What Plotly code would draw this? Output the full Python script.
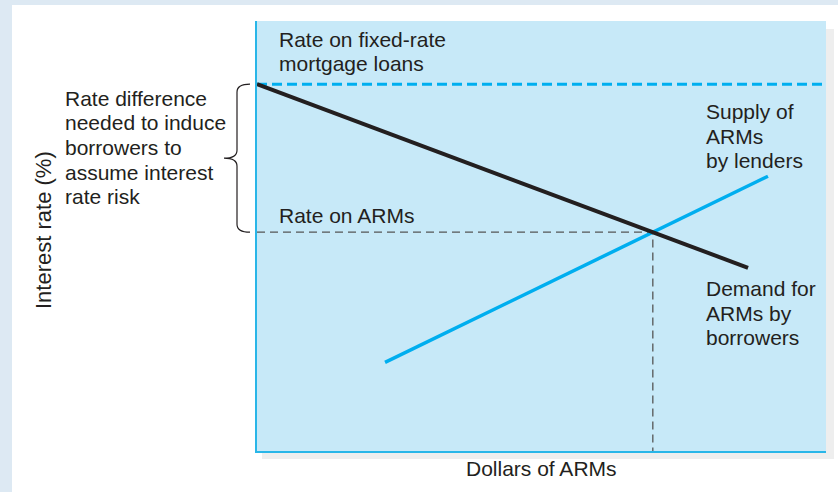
import plotly.graph_objects as go

# Market for adjustable-rate mortgages (ARMs): axis units are 0-100 on both axes
fixed_rate = 85.3
demand_x = [0, 86.3]
demand_y = [85.3, 42.6]
supply_x = [22.5, 89.8]
supply_y = [20.6, 63.9]

label_fixed = ["Rate on fixed-rate", "mortgage loans"]
label_arm = ["Rate on ARMs"]
label_supply = ["Supply of", "ARMs", "by lenders"]
label_demand = ["Demand for", "ARMs by", "borrowers"]
label_gap = ["Rate difference", "needed to induce", "borrowers to",
             "assume interest", "rate risk"]
x_title = "Dollars of ARMs"
y_title = "Interest rate (%)"

X_RANGE = [0, 100]
Y_RANGE = [0, 100]

# Equilibrium where the two straight lines cross
sd = (demand_y[1] - demand_y[0]) / (demand_x[1] - demand_x[0])
ss = (supply_y[1] - supply_y[0]) / (supply_x[1] - supply_x[0])
eq_x = (supply_y[0] - ss * supply_x[0] - demand_y[0] + sd * demand_x[0]) / (sd - ss)
eq_y = demand_y[0] + sd * (eq_x - demand_x[0])

TEXT = "#231f20"
CYAN = "#00aeef"
FONT = "Liberation Sans, Arial, sans-serif"
FS = 21

fig = go.Figure()

# Fixed-rate level
fig.add_trace(go.Scatter(x=X_RANGE, y=[fixed_rate, fixed_rate], mode="lines",
                         line=dict(color=CYAN, width=3, dash="10px,5px"),
                         hoverinfo="skip"))
# Guides to the equilibrium
fig.add_trace(go.Scatter(x=[X_RANGE[0], eq_x, eq_x], y=[eq_y, eq_y, Y_RANGE[0]],
                         mode="lines",
                         line=dict(color="#555555", width=1.3, dash="8px,5px"),
                         hoverinfo="skip"))
# Supply of ARMs
fig.add_trace(go.Scatter(x=supply_x, y=supply_y, mode="lines",
                         line=dict(color=CYAN, width=3.5), hoverinfo="skip"))
# Demand for ARMs
fig.add_trace(go.Scatter(x=demand_x, y=demand_y, mode="lines",
                         line=dict(color=TEXT, width=4), hoverinfo="skip"))

W, H = 838, 492
L, R, T, B = 257, 12, 21, 41
pw, ph = W - L - R, H - T - B


def px(xp):
    return (xp - L) / pw


def py(yp):
    return (H - B - yp) / ph


shapes = [
    # white card
    dict(type="rect", xref="paper", yref="paper", x0=px(12), x1=px(W + 5),
         y0=py(H + 5), y1=py(5), fillcolor="white", line=dict(width=0), layer="below"),
    # drop shadow of the plot panel
    dict(type="rect", xref="paper", yref="paper", x0=px(L + 5), x1=px(W - R + 8),
         y0=py(H - B + 8), y1=py(T + 8), fillcolor="#eeeeee", line=dict(width=0), layer="below"),
    # plot panel
    dict(type="rect", xref="paper", yref="paper", x0=0, x1=1, y0=0, y1=1,
         fillcolor="#c7e9f8", line=dict(width=0), layer="below"),
]

# Curly brace spanning the rate difference
yt = (fixed_rate - Y_RANGE[0]) / (Y_RANGE[1] - Y_RANGE[0])
yb = (eq_y - Y_RANGE[0]) / (Y_RANGE[1] - Y_RANGE[0])
ym = (yt + yb) / 2
xe, xs, xt = px(250), px(237), px(224)
r = 8 / ph
path = (f"M {xe},{yt} Q {xs},{yt} {xs},{yt - r} "
        f"L {xs},{ym + r} Q {xs},{ym} {xt},{ym} "
        f"Q {xs},{ym} {xs},{ym - r} "
        f"L {xs},{yb + r} Q {xs},{yb} {xe},{yb}")
shapes.append(dict(type="path", xref="paper", yref="paper", path=path,
                   line=dict(color=TEXT, width=1.2)))

ann_font = dict(family=FONT, size=FS, color=TEXT)
PITCH = 24.6  # line spacing in px
annotations = []


def text_block(lines, left_px, first_mid_px):
    for i, line in enumerate(lines):
        annotations.append(dict(
            x=px(left_px), y=py(first_mid_px + i * PITCH), xref="paper", yref="paper",
            text=line, xanchor="left", yanchor="middle", align="left",
            showarrow=False, font=ann_font))


text_block(label_fixed, 277, 39.4)
text_block(label_arm, 277, 215.7)
text_block(label_supply, 704, 111.7)
text_block(label_demand, 704, 288.7)
text_block(label_gap, 63, 98.4)

annotations.append(dict(x=px(43), y=py(230), xref="paper", yref="paper", text=y_title,
                        textangle=-90, xanchor="center", yanchor="middle",
                        showarrow=False, font=dict(family=FONT, size=22, color=TEXT)))
annotations.append(dict(x=px(541), y=py(468.7), xref="paper", yref="paper", text=x_title,
                        xanchor="center", yanchor="middle", showarrow=False, font=ann_font))

fig.update_layout(
    width=W, height=H,
    margin=dict(l=L, r=R, t=T, b=B, pad=0),
    paper_bgcolor="#dde9f3",
    plot_bgcolor="#c7e9f8",
    showlegend=False,
    shapes=shapes,
    annotations=annotations,
    xaxis=dict(range=X_RANGE, showgrid=False, zeroline=False, showticklabels=False,
               ticks="", showline=True, linecolor="#29b6e8", linewidth=2,
               fixedrange=True),
    yaxis=dict(range=Y_RANGE, showgrid=False, zeroline=False, showticklabels=False,
               ticks="", showline=True, linecolor="#29b6e8", linewidth=2,
               fixedrange=True),
)

fig.write_html("out.html", config=dict(displayModeBar=False))
